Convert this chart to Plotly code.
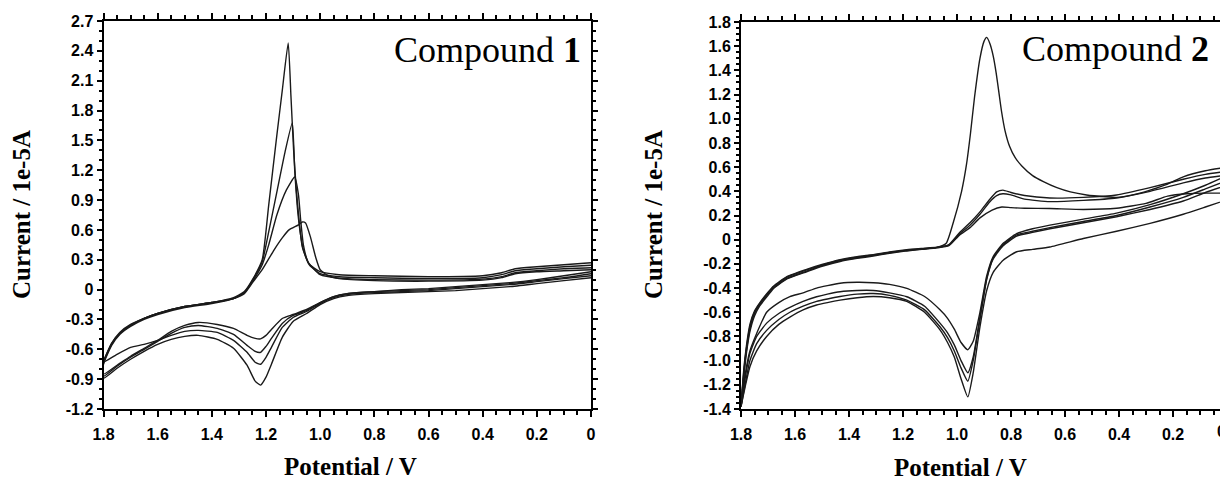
import plotly.graph_objects as go

# ---------------- Compound 1 data ----------------
c1_low_v = [0, 0.1, 0.2, 0.3, 0.4, 0.5, 0.6, 0.7, 0.8, 0.9, 0.95, 1.0, 1.05, 1.1, 1.14,
            1.18, 1.2, 1.22, 1.24, 1.27, 1.32, 1.38, 1.45, 1.5, 1.55, 1.6, 1.65, 1.7, 1.75, 1.8]
c1_low_a = [0.12, 0.09, 0.06, 0.03, 0.01, -0.01, -0.02, -0.03, -0.04, -0.06, -0.09, -0.15, -0.24, -0.32, -0.48,
            -0.75, -0.88, -0.96, -0.92, -0.76, -0.59, -0.50, -0.46, -0.47, -0.50, -0.55, -0.62, -0.70, -0.79, -0.89]
c1_low_b = [0.14, 0.11, 0.08, 0.05, 0.03, 0.01, -0.01, -0.02, -0.03, -0.05, -0.08, -0.14, -0.22, -0.28, -0.38,
            -0.58, -0.68, -0.75, -0.73, -0.63, -0.51, -0.43, -0.41, -0.42, -0.46, -0.51, -0.55, -0.58, -0.65, -0.73]
c1_low_c = [0.16, 0.12, 0.09, 0.06, 0.04, 0.02, 0.0, -0.01, -0.02, -0.04, -0.07, -0.13, -0.21, -0.26, -0.34,
            -0.49, -0.57, -0.63, -0.62, -0.56, -0.45, -0.39, -0.36, -0.38, -0.44, -0.52, -0.60, -0.68, -0.77, -0.87]
c1_low_d = [0.18, 0.14, 0.10, 0.07, 0.05, 0.03, 0.01, 0.0, -0.02, -0.04, -0.07, -0.13, -0.20, -0.25, -0.29,
            -0.40, -0.46, -0.495, -0.49, -0.46, -0.39, -0.35, -0.33, -0.36, -0.42, -0.51, -0.59, -0.67, -0.76, -0.85]

c1_upleft_v = [1.8, 1.77, 1.74, 1.7, 1.65, 1.6, 1.5, 1.4, 1.32, 1.28, 1.25]
c1_upleft_a = [-0.74, -0.55, -0.44, -0.36, -0.29, -0.24, -0.17, -0.13, -0.08, -0.02, 0.10]
c1_upleft_b = [-0.72, -0.54, -0.43, -0.35, -0.29, -0.24, -0.17, -0.13, -0.09, -0.03, 0.09]
c1_upleft_c = [-0.75, -0.56, -0.45, -0.37, -0.30, -0.25, -0.18, -0.14, -0.09, -0.03, 0.08]
c1_upleft_d = [-0.73, -0.54, -0.44, -0.36, -0.29, -0.24, -0.17, -0.13, -0.09, -0.04, 0.07]

c1_peak_a_v = [1.214, 1.19, 1.16, 1.14, 1.118, 1.108, 1.098, 1.088, 1.078, 1.066, 1.042, 1.0, 0.93,
               0.8, 0.6, 0.4, 0.33, 0.28, 0.2, 0.1, 0.0]
c1_peak_a_i = [0.30, 0.85, 1.55, 2.0, 2.48, 1.95, 1.4, 1.0, 0.7, 0.43, 0.26, 0.18, 0.15,
               0.14, 0.13, 0.14, 0.17, 0.21, 0.23, 0.25, 0.27]
c1_peak_b_v = [1.214, 1.19, 1.16, 1.13, 1.103, 1.094, 1.085, 1.075, 1.062, 1.04, 1.0, 0.93,
               0.8, 0.6, 0.4, 0.33, 0.28, 0.2, 0.1, 0.0]
c1_peak_b_i = [0.28, 0.58, 0.98, 1.38, 1.676, 1.2, 0.85, 0.6, 0.4, 0.25, 0.16, 0.13,
               0.12, 0.11, 0.12, 0.15, 0.19, 0.21, 0.23, 0.245]
c1_peak_c_v = [1.214, 1.19, 1.16, 1.125, 1.094, 1.08, 1.072, 1.062, 1.045, 1.0, 0.93,
               0.8, 0.6, 0.4, 0.33, 0.28, 0.2, 0.1, 0.0]
c1_peak_c_i = [0.25, 0.45, 0.75, 1.0, 1.132, 0.95, 0.7, 0.45, 0.28, 0.15, 0.115,
               0.10, 0.095, 0.105, 0.13, 0.17, 0.19, 0.21, 0.22]
c1_peak_d_v = [1.214, 1.17, 1.14, 1.115, 1.08, 1.066, 1.054, 1.036, 1.017, 1.0, 0.97, 0.93,
               0.8, 0.6, 0.4, 0.33, 0.28, 0.2, 0.1, 0.0]
c1_peak_d_i = [0.20, 0.40, 0.52, 0.60, 0.65, 0.68, 0.67, 0.53, 0.33, 0.20, 0.14, 0.11,
               0.09, 0.085, 0.095, 0.12, 0.16, 0.18, 0.19, 0.20]

# ---------------- Compound 2 data ----------------
c2_low_v = [0, 0.08, 0.162, 0.285, 0.409, 0.532, 0.656, 0.72, 0.779, 0.829, 0.866, 0.89, 0.915, 0.94,
            0.96, 0.985, 1.01, 1.035, 1.063, 1.12, 1.186, 1.25, 1.31, 1.37, 1.433, 1.48, 1.52, 1.57,
            1.619, 1.66, 1.705, 1.742, 1.767, 1.785, 1.8]
c2_low_p = [0.53, 0.45, 0.38, 0.29, 0.22, 0.17, 0.12, 0.09, 0.05, -0.03, -0.14, -0.30, -0.60, -0.84,
            -0.91, -0.85, -0.74, -0.65, -0.58, -0.47, -0.403, -0.37, -0.356, -0.352, -0.36, -0.38, -0.40, -0.44,
            -0.47, -0.52, -0.60, -0.775, -0.92, -1.12, -1.38]
c2_low_q = [0.49, 0.42, 0.35, 0.27, 0.20, 0.15, 0.10, 0.07, 0.04, -0.04, -0.15, -0.32, -0.64, -0.97,
            -1.10, -1.0, -0.87, -0.77, -0.69, -0.55, -0.472, -0.44, -0.42, -0.42, -0.43, -0.45, -0.472, -0.51,
            -0.56, -0.61, -0.69, -0.80, -0.94, -1.15, -1.38]
c2_low_r = [0.45, 0.39, 0.32, 0.25, 0.19, 0.14, 0.09, 0.06, 0.03, -0.05, -0.16, -0.33, -0.66, -1.0,
            -1.17, -1.06, -0.92, -0.81, -0.72, -0.58, -0.50, -0.46, -0.445, -0.45, -0.47, -0.49, -0.51, -0.55,
            -0.60, -0.66, -0.75, -0.86, -1.0, -1.2, -1.38]
c2_low_s = [0.33, 0.27, 0.21, 0.135, 0.07, 0.01, -0.06, -0.08, -0.10, -0.17, -0.27, -0.42, -0.72, -1.1,
            -1.30, -1.15, -0.97, -0.85, -0.745, -0.60, -0.51, -0.48, -0.47, -0.48, -0.50, -0.52, -0.54, -0.58,
            -0.64, -0.70, -0.80, -0.92, -1.05, -1.22, -1.38]

c2_upleft_v = [1.8, 1.79, 1.78, 1.767, 1.75, 1.73, 1.70, 1.68, 1.63, 1.557, 1.5, 1.433, 1.37, 1.31,
               1.25, 1.186, 1.13, 1.075]
c2_upleft_p = [-1.38, -1.1, -0.9, -0.72, -0.6, -0.527, -0.44, -0.39, -0.31, -0.25, -0.21, -0.17, -0.145,
               -0.127, -0.105, -0.086, -0.075, -0.064]
c2_upleft_q = [-1.38, -1.12, -0.92, -0.74, -0.61, -0.535, -0.45, -0.40, -0.32, -0.26, -0.215, -0.175, -0.15,
               -0.13, -0.108, -0.09, -0.078, -0.066]
c2_upleft_r = [-1.38, -1.08, -0.88, -0.70, -0.59, -0.52, -0.435, -0.385, -0.305, -0.245, -0.205, -0.165,
               -0.14, -0.124, -0.102, -0.083, -0.072, -0.062]
c2_upleft_s = [-1.38, -1.14, -0.94, -0.76, -0.63, -0.545, -0.46, -0.405, -0.325, -0.265, -0.22, -0.18,
               -0.155, -0.135, -0.112, -0.093, -0.08, -0.068]

c2_peak_p_v = [1.04, 1.014, 0.983, 0.965, 0.95, 0.935, 0.915, 0.9, 0.89, 0.878, 0.866, 0.855, 0.845,
               0.835, 0.822, 0.805, 0.785, 0.76, 0.72, 0.68, 0.63, 0.58, 0.52, 0.45, 0.409, 0.35,
               0.285, 0.22, 0.162, 0.08, 0.0]
c2_peak_p_i = [-0.03, 0.14, 0.40, 0.62, 0.88, 1.18, 1.50, 1.64, 1.673, 1.62, 1.52, 1.38, 1.22,
               1.06, 0.90, 0.77, 0.68, 0.61, 0.53, 0.48, 0.43, 0.395, 0.37, 0.355, 0.35, 0.37,
               0.41, 0.46, 0.52, 0.57, 0.60]
c2_peak_q_v = [1.03, 0.99, 0.952, 0.915, 0.88, 0.853, 0.83, 0.8, 0.75, 0.656, 0.532, 0.409, 0.285,
               0.162, 0.08, 0.0]
c2_peak_q_i = [-0.04, 0.06, 0.14, 0.23, 0.33, 0.395, 0.41, 0.39, 0.365, 0.345, 0.35, 0.37, 0.43,
               0.50, 0.54, 0.565]
c2_peak_r_v = [1.03, 0.99, 0.952, 0.915, 0.88, 0.853, 0.83, 0.8, 0.75, 0.656, 0.532, 0.409, 0.285,
               0.162, 0.08, 0.0]
c2_peak_r_i = [-0.045, 0.05, 0.12, 0.21, 0.31, 0.365, 0.38, 0.37, 0.335, 0.315, 0.325, 0.345, 0.40,
               0.47, 0.51, 0.535]
c2_peak_s_v = [1.03, 0.99, 0.952, 0.915, 0.87, 0.834, 0.8, 0.75, 0.656, 0.532, 0.409, 0.3, 0.22,
               0.15, 0.08, 0.0]
c2_peak_s_i = [-0.05, 0.04, 0.10, 0.18, 0.245, 0.27, 0.265, 0.26, 0.258, 0.25, 0.26, 0.30, 0.36,
               0.38, 0.385, 0.385]

# ---------------- tick labels ----------------
x1_ticks = [1.8, 1.6, 1.4, 1.2, 1.0, 0.8, 0.6, 0.4, 0.2, 0.0]
x1_labels = ["1.8", "1.6", "1.4", "1.2", "1.0", "0.8", "0.6", "0.4", "0.2", "0"]
x2_ticks = [1.8, 1.6, 1.4, 1.2, 1.0, 0.8, 0.6, 0.4, 0.2, 0.0]
x2_labels = ["1.8", "1.6", "1.4", "1.2", "1.0", "0.8", "0.6", "0.4", "0.2", ""]
x2_edge_label = "0"
y1_ticks = [2.7, 2.4, 2.1, 1.8, 1.5, 1.2, 0.9, 0.6, 0.3, 0.0, -0.3, -0.6, -0.9, -1.2]
y1_labels = ["2.7", "2.4", "2.1", "1.8", "1.5", "1.2", "0.9", "0.6", "0.3", "0", "-0.3", "-0.6", "-0.9", "-1.2"]
y2_ticks = [1.8, 1.6, 1.4, 1.2, 1.0, 0.8, 0.6, 0.4, 0.2, 0.0, -0.2, -0.4, -0.6, -0.8, -1.0, -1.2, -1.4]
y2_labels = ["1.8", "1.6", "1.4", "1.2", "1.0", "0.8", "0.6", "0.4", "0.2", "0", "-0.2", "-0.4", "-0.6",
             "-0.8", "-1.0", "-1.2", "-1.4"]

# page body has an 8px default margin: the figure is drawn inside the remaining area
OFF = 8
W, H = 1228 - OFF, 487 - OFF


def px(x):
    return (x - OFF) / W


def py(y):
    return 1 - (y - OFF) / H


LINE = dict(color="#1a1a1a", width=1.4, shape="spline", smoothing=0.5)

fig = go.Figure()


def add_cycle(low_v, low_i, upl_v, upl_i, pk_v, pk_i, xa, ya):
    xs = list(low_v) + list(upl_v) + list(pk_v)
    ys = list(low_i) + list(upl_i) + list(pk_i)
    fig.add_trace(go.Scatter(x=xs, y=ys, mode="lines", line=LINE, xaxis=xa, yaxis=ya,
                             showlegend=False, hoverinfo="skip"))


add_cycle(c1_low_v, c1_low_a, c1_upleft_v, c1_upleft_a, c1_peak_a_v, c1_peak_a_i, "x", "y")
add_cycle(c1_low_v, c1_low_b, c1_upleft_v, c1_upleft_b, c1_peak_b_v, c1_peak_b_i, "x", "y")
add_cycle(c1_low_v, c1_low_c, c1_upleft_v, c1_upleft_c, c1_peak_c_v, c1_peak_c_i, "x", "y")
add_cycle(c1_low_v, c1_low_d, c1_upleft_v, c1_upleft_d, c1_peak_d_v, c1_peak_d_i, "x", "y")

add_cycle(c2_low_v, c2_low_p, c2_upleft_v, c2_upleft_p, c2_peak_p_v, c2_peak_p_i, "x2", "y2")
add_cycle(c2_low_v, c2_low_q, c2_upleft_v, c2_upleft_q, c2_peak_q_v, c2_peak_q_i, "x2", "y2")
add_cycle(c2_low_v, c2_low_r, c2_upleft_v, c2_upleft_r, c2_peak_r_v, c2_peak_r_i, "x2", "y2")
add_cycle(c2_low_v, c2_low_s, c2_upleft_v, c2_upleft_s, c2_peak_s_v, c2_peak_s_i, "x2", "y2")

TICKFONT = dict(family="Liberation Sans, Arial, sans-serif", size=16, color="black", weight="bold")


def xaxis(dom, anchor, tv, tt):
    return dict(domain=dom, anchor=anchor, range=[1.8, 0], tickmode="array", tickvals=tv,
                ticktext=tt, ticks="outside", ticklen=6, tickwidth=2, tickcolor="black",
                showline=True, linecolor="black", linewidth=2, mirror="ticks", showgrid=False,
                zeroline=False, tickfont=TICKFONT, ticklabelstandoff=4, automargin=False,
                minor=dict(tickmode="linear", tick0=0, dtick=0.05, ticks="outside", ticklen=4,
                           tickwidth=1.5, tickcolor="black", showgrid=False))


def yaxis(dom, anchor, rng, tv, tt, mdt):
    return dict(domain=dom, anchor=anchor, range=rng, tickmode="array", tickvals=tv, ticktext=tt,
                ticks="outside", ticklen=5, tickwidth=2, tickcolor="black", showline=True,
                linecolor="black", linewidth=2, mirror="ticks", showgrid=False, zeroline=False,
                tickfont=TICKFONT, ticklabelstandoff=0, automargin=False,
                minor=dict(tickmode="linear", tick0=0, dtick=mdt, ticks="outside", ticklen=3,
                           tickwidth=1.5, tickcolor="black", showgrid=False))


TITLEFONT = dict(family="Liberation Serif, Times New Roman, serif", size=25, color="black")
LABELFONT = dict(family="Liberation Serif, Times New Roman, serif", size=36, color="black")

fig.update_layout(
    width=W, height=H, margin=dict(l=0, r=0, t=0, b=0, autoexpand=False),
    paper_bgcolor="white", plot_bgcolor="white",
    xaxis=xaxis([px(103.5), px(591)], "y", x1_ticks, x1_labels),
    yaxis=yaxis([py(409), py(21)], "x", [-1.2, 2.7], y1_ticks, y1_labels, 0.1),
    xaxis2=xaxis([px(741), px(1227)], "y2", x2_ticks, x2_labels),
    yaxis2=yaxis([py(409), py(22)], "x2", [-1.4, 1.8], y2_ticks, y2_labels, 0.05),
    annotations=[
        dict(text="Compound <b>1</b>", xref="paper", yref="paper", x=px(583), y=py(50),
             xanchor="right", yanchor="middle", showarrow=False, font=LABELFONT),
        dict(text="Compound <b>2</b>", xref="paper", yref="paper", x=px(1211), y=py(49),
             xanchor="right", yanchor="middle", showarrow=False, font=LABELFONT),
        dict(text="<b>Potential / V</b>", xref="paper", yref="paper", x=px(350), y=py(466),
             xanchor="center", yanchor="middle", showarrow=False, font=TITLEFONT),
        dict(text="<b>Potential / V</b>", xref="paper", yref="paper", x=px(961), y=py(467),
             xanchor="center", yanchor="middle", showarrow=False, font=TITLEFONT),
        dict(text="<b>Current / 1e-5A</b>", xref="paper", yref="paper", x=px(21), y=py(215),
             xanchor="center", yanchor="middle", showarrow=False, textangle=-90, font=TITLEFONT),
        dict(text="<b>Current / 1e-5A</b>", xref="paper", yref="paper", x=px(653), y=py(215),
             xanchor="center", yanchor="middle", showarrow=False, textangle=-90, font=TITLEFONT),
        dict(text=x2_edge_label, xref="paper", yref="paper", x=1.0, y=py(431),
             xanchor="right", yanchor="middle", showarrow=False, font=TICKFONT),
    ],
)

fig.write_html("out.html")
